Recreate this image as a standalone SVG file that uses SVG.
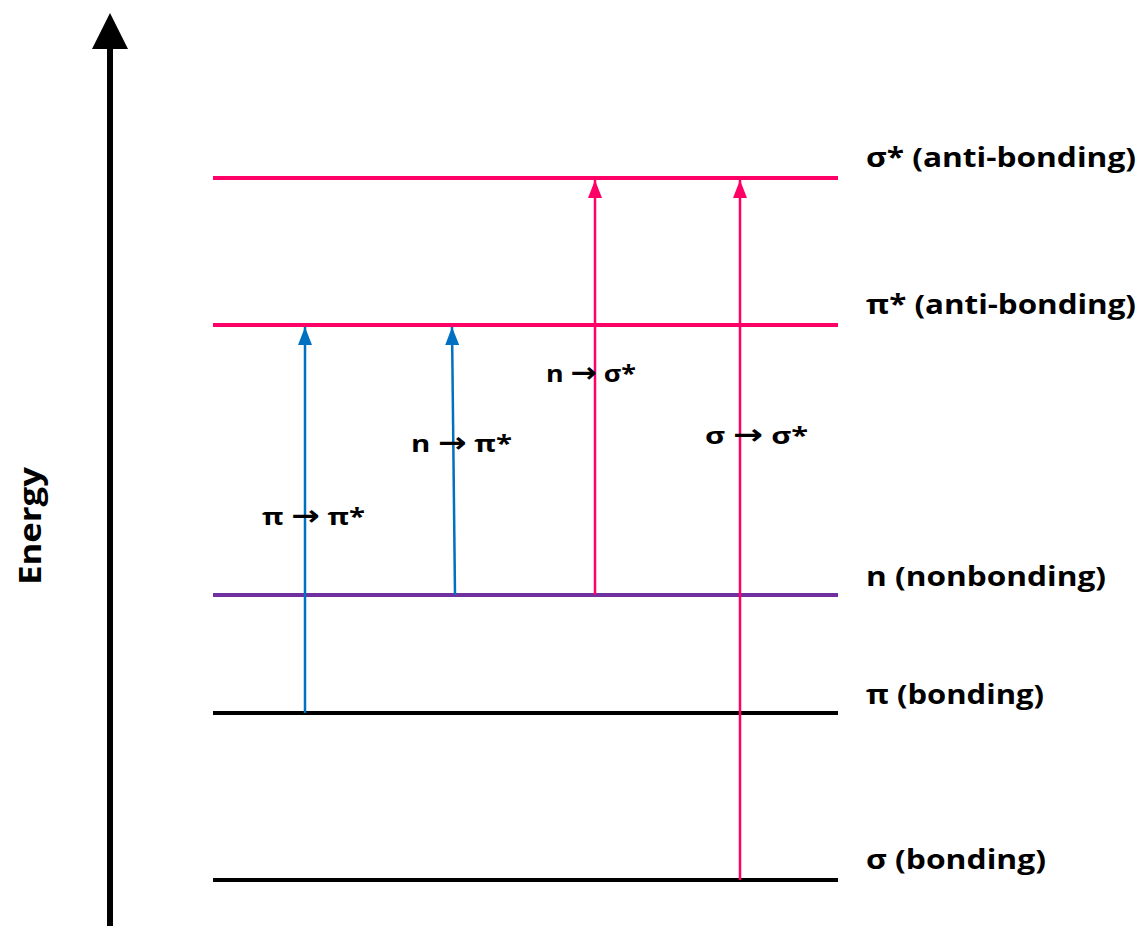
<svg xmlns="http://www.w3.org/2000/svg" width="1141" height="926" viewBox="0 0 1141 926">
<style>
text{font-family:"Open Sans","Liberation Sans",sans-serif;font-weight:bold;fill:#000}
.lbl{font-size:26px}
.tr{font-size:24px}
.ar{font-family:"DejaVu Sans",sans-serif;font-size:28px}
.lvl{stroke-width:4;fill:none}
.blue{stroke:#0070C0;stroke-width:2.5;fill:none}
.pink{stroke:#FF0066;stroke-width:2.5;fill:none}
</style>
<defs>
<marker id="hb" markerUnits="userSpaceOnUse" markerWidth="18" markerHeight="14" viewBox="0 0 18 14" refX="18" refY="7" orient="auto"><path d="M0,0 L18,7 L0,14 Z" fill="#0070C0"/></marker>
<marker id="hp" markerUnits="userSpaceOnUse" markerWidth="18" markerHeight="14" viewBox="0 0 18 14" refX="18" refY="7" orient="auto"><path d="M0,0 L18,7 L0,14 Z" fill="#FF0066"/></marker>
</defs>
<rect width="1141" height="926" fill="#fff"/>
<g id="axis">
<line x1="110" y1="926" x2="110" y2="45" stroke="#000" stroke-width="6"/>
<path d="M92,49 L110,13 L128,49 Z" fill="#000"/>
<text transform="translate(41,526) rotate(-90)" text-anchor="middle" font-size="30" textLength="118" lengthAdjust="spacingAndGlyphs">Energy</text>
</g>
<g id="level-sigma-star">
<line class="lvl" x1="213" y1="178" x2="838" y2="178" stroke="#FF0066"/>
<text class="lbl" x="866" y="167" textLength="270" lengthAdjust="spacingAndGlyphs">σ* (anti-bonding)</text>
</g>
<g id="level-pi-star">
<line class="lvl" x1="213" y1="325" x2="838" y2="325" stroke="#FF0066"/>
<text class="lbl" x="866" y="314" textLength="270" lengthAdjust="spacingAndGlyphs">π* (anti-bonding)</text>
</g>
<g id="level-n">
<line class="lvl" x1="213" y1="595" x2="838" y2="595" stroke="#7030A0"/>
<text class="lbl" x="866" y="586" textLength="240" lengthAdjust="spacingAndGlyphs">n (nonbonding)</text>
</g>
<g id="level-pi">
<line class="lvl" x1="213" y1="713" x2="838" y2="713" stroke="#000"/>
<text class="lbl" x="866" y="704" textLength="178" lengthAdjust="spacingAndGlyphs">π (bonding)</text>
</g>
<g id="level-sigma">
<line class="lvl" x1="213" y1="880" x2="838" y2="880" stroke="#000"/>
<text class="lbl" x="866" y="869" textLength="180" lengthAdjust="spacingAndGlyphs">σ (bonding)</text>
</g>
<g id="connectors">
<line class="blue" x1="305" y1="713" x2="305" y2="327" marker-end="url(#hb)"/>
<line class="blue" x1="455" y1="595" x2="452" y2="327" marker-end="url(#hb)"/>
<line class="pink" x1="595" y1="595" x2="595" y2="180" marker-end="url(#hp)"/>
<line class="pink" x1="740" y1="880" x2="740" y2="180" marker-end="url(#hp)"/>
</g>
<g id="transition-labels">
<text class="tr" x="262" y="525" textLength="103" lengthAdjust="spacingAndGlyphs">π <tspan class="ar">→</tspan> π*</text>
<text class="tr" x="411" y="452" textLength="101" lengthAdjust="spacingAndGlyphs">n <tspan class="ar">→</tspan> π*</text>
<text class="tr" x="546" y="382" textLength="90" lengthAdjust="spacingAndGlyphs">n <tspan class="ar">→</tspan> σ*</text>
<text class="tr" x="705" y="444" textLength="103" lengthAdjust="spacingAndGlyphs">σ <tspan class="ar">→</tspan> σ*</text>
</g>
</svg>
